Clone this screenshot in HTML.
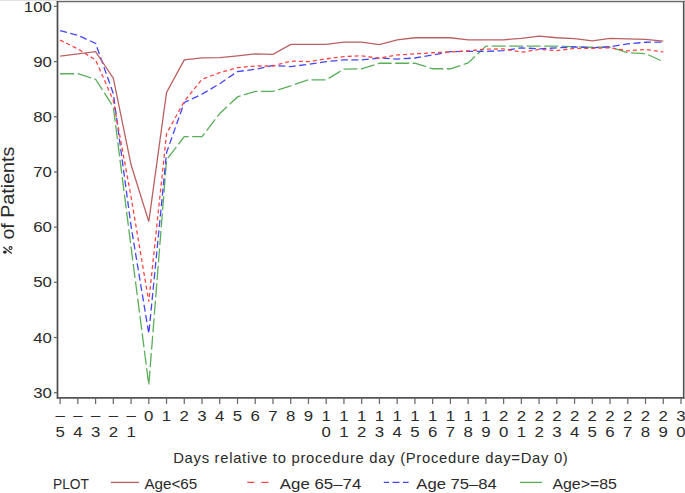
<!DOCTYPE html>
<html><head><meta charset="utf-8"><style>
html,body{margin:0;padding:0;background:#fff;}
body{width:685px;height:493px;overflow:hidden;}
svg{display:block;}
.t{font-family:"Liberation Sans",sans-serif;font-size:15.2px;fill:#2a2a2a;}
.tk{font-size:15.3px;}
</style></head><body>
<svg width="685" height="493" viewBox="0 0 685 493">
<rect x="0" y="0" width="685" height="1" fill="#e2e2e2"/>
<rect x="684.2" y="0" width="0.8" height="398.59999999999997" fill="#c4c4c4"/>
<line x1="56.8" y1="1.62" x2="684.3000000000001" y2="1.62" stroke="#6a6a6a" stroke-width="1.45"/>
<line x1="683.6" y1="0.9200000000000002" x2="683.6" y2="398.59999999999997" stroke="#505050" stroke-width="1.4"/>
<line x1="57.5" y1="0.9200000000000002" x2="57.5" y2="398.59999999999997" stroke="#4a4a4a" stroke-width="1.7"/>
<line x1="56.8" y1="397.9" x2="684.3000000000001" y2="397.9" stroke="#555" stroke-width="1.6"/>
<line x1="53.9" y1="392.73" x2="57.5" y2="392.73" stroke="#686868" stroke-width="1.25"/>
<text transform="translate(51.9,397.83) scale(1.1,1)" text-anchor="end" class="t tk">30</text>
<line x1="53.9" y1="337.54" x2="57.5" y2="337.54" stroke="#686868" stroke-width="1.25"/>
<text transform="translate(51.9,342.64) scale(1.1,1)" text-anchor="end" class="t tk">40</text>
<line x1="53.9" y1="282.35" x2="57.5" y2="282.35" stroke="#686868" stroke-width="1.25"/>
<text transform="translate(51.9,287.45) scale(1.1,1)" text-anchor="end" class="t tk">50</text>
<line x1="53.9" y1="227.16" x2="57.5" y2="227.16" stroke="#686868" stroke-width="1.25"/>
<text transform="translate(51.9,232.26) scale(1.1,1)" text-anchor="end" class="t tk">60</text>
<line x1="53.9" y1="171.97" x2="57.5" y2="171.97" stroke="#686868" stroke-width="1.25"/>
<text transform="translate(51.9,177.07) scale(1.1,1)" text-anchor="end" class="t tk">70</text>
<line x1="53.9" y1="116.78" x2="57.5" y2="116.78" stroke="#686868" stroke-width="1.25"/>
<text transform="translate(51.9,121.88) scale(1.1,1)" text-anchor="end" class="t tk">80</text>
<line x1="53.9" y1="61.59" x2="57.5" y2="61.59" stroke="#686868" stroke-width="1.25"/>
<text transform="translate(51.9,66.69) scale(1.1,1)" text-anchor="end" class="t tk">90</text>
<line x1="53.9" y1="6.40" x2="57.5" y2="6.40" stroke="#686868" stroke-width="1.25"/>
<text transform="translate(51.9,11.50) scale(1.1,1)" text-anchor="end" class="t tk">100</text>
<line x1="60.10" y1="397.9" x2="60.10" y2="403.9" stroke="#686868" stroke-width="1.25"/>
<text transform="translate(60.10,420.40) scale(1.1,1)" text-anchor="middle" class="t tk">–</text>
<text transform="translate(60.10,436.6) scale(1.1,1)" text-anchor="middle" class="t tk">5</text>
<line x1="77.84" y1="397.9" x2="77.84" y2="403.9" stroke="#686868" stroke-width="1.25"/>
<text transform="translate(77.84,420.40) scale(1.1,1)" text-anchor="middle" class="t tk">–</text>
<text transform="translate(77.84,436.6) scale(1.1,1)" text-anchor="middle" class="t tk">4</text>
<line x1="95.58" y1="397.9" x2="95.58" y2="403.9" stroke="#686868" stroke-width="1.25"/>
<text transform="translate(95.58,420.40) scale(1.1,1)" text-anchor="middle" class="t tk">–</text>
<text transform="translate(95.58,436.6) scale(1.1,1)" text-anchor="middle" class="t tk">3</text>
<line x1="113.32" y1="397.9" x2="113.32" y2="403.9" stroke="#686868" stroke-width="1.25"/>
<text transform="translate(113.32,420.40) scale(1.1,1)" text-anchor="middle" class="t tk">–</text>
<text transform="translate(113.32,436.6) scale(1.1,1)" text-anchor="middle" class="t tk">2</text>
<line x1="131.06" y1="397.9" x2="131.06" y2="403.9" stroke="#686868" stroke-width="1.25"/>
<text transform="translate(131.06,420.40) scale(1.1,1)" text-anchor="middle" class="t tk">–</text>
<text transform="translate(131.06,436.6) scale(1.1,1)" text-anchor="middle" class="t tk">1</text>
<line x1="148.80" y1="397.9" x2="148.80" y2="403.9" stroke="#686868" stroke-width="1.25"/>
<text transform="translate(148.80,420.80) scale(1.1,1)" text-anchor="middle" class="t tk">0</text>
<line x1="166.54" y1="397.9" x2="166.54" y2="403.9" stroke="#686868" stroke-width="1.25"/>
<text transform="translate(166.54,420.80) scale(1.1,1)" text-anchor="middle" class="t tk">1</text>
<line x1="184.28" y1="397.9" x2="184.28" y2="403.9" stroke="#686868" stroke-width="1.25"/>
<text transform="translate(184.28,420.80) scale(1.1,1)" text-anchor="middle" class="t tk">2</text>
<line x1="202.02" y1="397.9" x2="202.02" y2="403.9" stroke="#686868" stroke-width="1.25"/>
<text transform="translate(202.02,420.80) scale(1.1,1)" text-anchor="middle" class="t tk">3</text>
<line x1="219.76" y1="397.9" x2="219.76" y2="403.9" stroke="#686868" stroke-width="1.25"/>
<text transform="translate(219.76,420.80) scale(1.1,1)" text-anchor="middle" class="t tk">4</text>
<line x1="237.50" y1="397.9" x2="237.50" y2="403.9" stroke="#686868" stroke-width="1.25"/>
<text transform="translate(237.50,420.80) scale(1.1,1)" text-anchor="middle" class="t tk">5</text>
<line x1="255.24" y1="397.9" x2="255.24" y2="403.9" stroke="#686868" stroke-width="1.25"/>
<text transform="translate(255.24,420.80) scale(1.1,1)" text-anchor="middle" class="t tk">6</text>
<line x1="272.98" y1="397.9" x2="272.98" y2="403.9" stroke="#686868" stroke-width="1.25"/>
<text transform="translate(272.98,420.80) scale(1.1,1)" text-anchor="middle" class="t tk">7</text>
<line x1="290.72" y1="397.9" x2="290.72" y2="403.9" stroke="#686868" stroke-width="1.25"/>
<text transform="translate(290.72,420.80) scale(1.1,1)" text-anchor="middle" class="t tk">8</text>
<line x1="308.46" y1="397.9" x2="308.46" y2="403.9" stroke="#686868" stroke-width="1.25"/>
<text transform="translate(308.46,420.80) scale(1.1,1)" text-anchor="middle" class="t tk">9</text>
<line x1="326.20" y1="397.9" x2="326.20" y2="403.9" stroke="#686868" stroke-width="1.25"/>
<text transform="translate(326.20,420.80) scale(1.1,1)" text-anchor="middle" class="t tk">1</text>
<text transform="translate(326.20,436.6) scale(1.1,1)" text-anchor="middle" class="t tk">0</text>
<line x1="343.94" y1="397.9" x2="343.94" y2="403.9" stroke="#686868" stroke-width="1.25"/>
<text transform="translate(343.94,420.80) scale(1.1,1)" text-anchor="middle" class="t tk">1</text>
<text transform="translate(343.94,436.6) scale(1.1,1)" text-anchor="middle" class="t tk">1</text>
<line x1="361.68" y1="397.9" x2="361.68" y2="403.9" stroke="#686868" stroke-width="1.25"/>
<text transform="translate(361.68,420.80) scale(1.1,1)" text-anchor="middle" class="t tk">1</text>
<text transform="translate(361.68,436.6) scale(1.1,1)" text-anchor="middle" class="t tk">2</text>
<line x1="379.42" y1="397.9" x2="379.42" y2="403.9" stroke="#686868" stroke-width="1.25"/>
<text transform="translate(379.42,420.80) scale(1.1,1)" text-anchor="middle" class="t tk">1</text>
<text transform="translate(379.42,436.6) scale(1.1,1)" text-anchor="middle" class="t tk">3</text>
<line x1="397.16" y1="397.9" x2="397.16" y2="403.9" stroke="#686868" stroke-width="1.25"/>
<text transform="translate(397.16,420.80) scale(1.1,1)" text-anchor="middle" class="t tk">1</text>
<text transform="translate(397.16,436.6) scale(1.1,1)" text-anchor="middle" class="t tk">4</text>
<line x1="414.90" y1="397.9" x2="414.90" y2="403.9" stroke="#686868" stroke-width="1.25"/>
<text transform="translate(414.90,420.80) scale(1.1,1)" text-anchor="middle" class="t tk">1</text>
<text transform="translate(414.90,436.6) scale(1.1,1)" text-anchor="middle" class="t tk">5</text>
<line x1="432.64" y1="397.9" x2="432.64" y2="403.9" stroke="#686868" stroke-width="1.25"/>
<text transform="translate(432.64,420.80) scale(1.1,1)" text-anchor="middle" class="t tk">1</text>
<text transform="translate(432.64,436.6) scale(1.1,1)" text-anchor="middle" class="t tk">6</text>
<line x1="450.38" y1="397.9" x2="450.38" y2="403.9" stroke="#686868" stroke-width="1.25"/>
<text transform="translate(450.38,420.80) scale(1.1,1)" text-anchor="middle" class="t tk">1</text>
<text transform="translate(450.38,436.6) scale(1.1,1)" text-anchor="middle" class="t tk">7</text>
<line x1="468.12" y1="397.9" x2="468.12" y2="403.9" stroke="#686868" stroke-width="1.25"/>
<text transform="translate(468.12,420.80) scale(1.1,1)" text-anchor="middle" class="t tk">1</text>
<text transform="translate(468.12,436.6) scale(1.1,1)" text-anchor="middle" class="t tk">8</text>
<line x1="485.86" y1="397.9" x2="485.86" y2="403.9" stroke="#686868" stroke-width="1.25"/>
<text transform="translate(485.86,420.80) scale(1.1,1)" text-anchor="middle" class="t tk">1</text>
<text transform="translate(485.86,436.6) scale(1.1,1)" text-anchor="middle" class="t tk">9</text>
<line x1="503.60" y1="397.9" x2="503.60" y2="403.9" stroke="#686868" stroke-width="1.25"/>
<text transform="translate(503.60,420.80) scale(1.1,1)" text-anchor="middle" class="t tk">2</text>
<text transform="translate(503.60,436.6) scale(1.1,1)" text-anchor="middle" class="t tk">0</text>
<line x1="521.34" y1="397.9" x2="521.34" y2="403.9" stroke="#686868" stroke-width="1.25"/>
<text transform="translate(521.34,420.80) scale(1.1,1)" text-anchor="middle" class="t tk">2</text>
<text transform="translate(521.34,436.6) scale(1.1,1)" text-anchor="middle" class="t tk">1</text>
<line x1="539.08" y1="397.9" x2="539.08" y2="403.9" stroke="#686868" stroke-width="1.25"/>
<text transform="translate(539.08,420.80) scale(1.1,1)" text-anchor="middle" class="t tk">2</text>
<text transform="translate(539.08,436.6) scale(1.1,1)" text-anchor="middle" class="t tk">2</text>
<line x1="556.82" y1="397.9" x2="556.82" y2="403.9" stroke="#686868" stroke-width="1.25"/>
<text transform="translate(556.82,420.80) scale(1.1,1)" text-anchor="middle" class="t tk">2</text>
<text transform="translate(556.82,436.6) scale(1.1,1)" text-anchor="middle" class="t tk">3</text>
<line x1="574.56" y1="397.9" x2="574.56" y2="403.9" stroke="#686868" stroke-width="1.25"/>
<text transform="translate(574.56,420.80) scale(1.1,1)" text-anchor="middle" class="t tk">2</text>
<text transform="translate(574.56,436.6) scale(1.1,1)" text-anchor="middle" class="t tk">4</text>
<line x1="592.30" y1="397.9" x2="592.30" y2="403.9" stroke="#686868" stroke-width="1.25"/>
<text transform="translate(592.30,420.80) scale(1.1,1)" text-anchor="middle" class="t tk">2</text>
<text transform="translate(592.30,436.6) scale(1.1,1)" text-anchor="middle" class="t tk">5</text>
<line x1="610.04" y1="397.9" x2="610.04" y2="403.9" stroke="#686868" stroke-width="1.25"/>
<text transform="translate(610.04,420.80) scale(1.1,1)" text-anchor="middle" class="t tk">2</text>
<text transform="translate(610.04,436.6) scale(1.1,1)" text-anchor="middle" class="t tk">6</text>
<line x1="627.78" y1="397.9" x2="627.78" y2="403.9" stroke="#686868" stroke-width="1.25"/>
<text transform="translate(627.78,420.80) scale(1.1,1)" text-anchor="middle" class="t tk">2</text>
<text transform="translate(627.78,436.6) scale(1.1,1)" text-anchor="middle" class="t tk">7</text>
<line x1="645.52" y1="397.9" x2="645.52" y2="403.9" stroke="#686868" stroke-width="1.25"/>
<text transform="translate(645.52,420.80) scale(1.1,1)" text-anchor="middle" class="t tk">2</text>
<text transform="translate(645.52,436.6) scale(1.1,1)" text-anchor="middle" class="t tk">8</text>
<line x1="663.26" y1="397.9" x2="663.26" y2="403.9" stroke="#686868" stroke-width="1.25"/>
<text transform="translate(663.26,420.80) scale(1.1,1)" text-anchor="middle" class="t tk">2</text>
<text transform="translate(663.26,436.6) scale(1.1,1)" text-anchor="middle" class="t tk">9</text>
<line x1="681.00" y1="397.9" x2="681.00" y2="403.9" stroke="#686868" stroke-width="1.25"/>
<text transform="translate(681.00,420.80) scale(1.1,1)" text-anchor="middle" class="t tk">3</text>
<text transform="translate(681.00,436.6) scale(1.1,1)" text-anchor="middle" class="t tk">0</text>
<polyline points="60.10,73.73 77.84,73.73 95.58,79.25 113.32,106.85 131.06,247.03 148.80,385.00 166.54,159.83 184.28,136.65 202.02,136.65 219.76,113.47 237.50,96.91 255.24,91.39 272.98,91.39 290.72,85.87 308.46,79.80 326.20,79.80 343.94,69.04 361.68,68.76 379.42,63.25 397.16,63.25 414.90,63.25 432.64,68.76 450.38,68.76 468.12,62.97 485.86,46.14 503.60,46.14 521.34,46.14 539.08,46.14 556.82,46.14 574.56,46.69 592.30,47.24 610.04,47.24 627.78,52.76 645.52,53.59 663.26,61.59" fill="none" stroke="#5aae5a" stroke-width="1.3" stroke-dasharray="14 3.5"/>
<polyline points="60.10,30.68 77.84,35.32 95.58,43.38 113.32,93.60 131.06,226.06 148.80,333.68 166.54,152.65 184.28,102.43 202.02,94.15 219.76,83.67 237.50,71.52 255.24,69.32 272.98,65.45 290.72,66.56 308.46,64.35 326.20,61.59 343.94,59.93 361.68,59.93 379.42,58.00 397.16,59.11 414.90,58.00 432.64,54.97 450.38,51.66 468.12,51.38 485.86,51.38 503.60,50.55 521.34,47.79 539.08,48.90 556.82,47.79 574.56,46.96 592.30,47.79 610.04,46.69 627.78,43.93 645.52,42.27 663.26,42.00" fill="none" stroke="#4545ff" stroke-width="1.3" stroke-dasharray="7 3.5"/>
<polyline points="60.10,40.07 77.84,48.90 95.58,59.93 113.32,100.50 131.06,196.81 148.80,301.67 166.54,133.61 184.28,101.33 202.02,79.25 219.76,72.63 237.50,67.66 255.24,66.01 272.98,66.01 290.72,61.04 308.46,61.59 326.20,58.83 343.94,56.62 361.68,55.80 379.42,58.28 397.16,54.97 414.90,53.86 432.64,52.76 450.38,51.93 468.12,50.83 485.86,49.17 503.60,48.90 521.34,52.21 539.08,49.45 556.82,50.55 574.56,48.34 592.30,48.34 610.04,47.79 627.78,50.83 645.52,49.45 663.26,51.93" fill="none" stroke="#ff4545" stroke-width="1.3" stroke-dasharray="4 3"/>
<polyline points="60.10,56.07 77.84,53.86 95.58,51.66 113.32,78.15 131.06,164.80 148.80,221.64 166.54,92.50 184.28,59.82 202.02,57.84 219.76,57.62 237.50,55.96 255.24,53.92 272.98,54.30 290.72,44.37 308.46,44.37 326.20,44.37 343.94,42.16 361.68,42.16 379.42,44.65 397.16,39.96 414.90,37.75 432.64,37.75 450.38,37.75 468.12,39.79 485.86,39.79 503.60,39.79 521.34,38.30 539.08,36.09 556.82,37.75 574.56,38.58 592.30,40.78 610.04,38.30 627.78,38.85 645.52,39.40 663.26,41.06" fill="none" stroke="#bb6060" stroke-width="1.3"/>
<text transform="translate(14.3,239.6) rotate(-90)" class="t" style="font-size:17.5px" textLength="92.9" lengthAdjust="spacingAndGlyphs">of Patients</text>
<g fill="none" stroke="#2a2a2a"><line x1="3.4" y1="247.1" x2="11.8" y2="253.4" stroke-width="1.3"/><circle cx="10.6" cy="248.1" r="1.45" stroke-width="1.1"/></g><ellipse cx="4.9" cy="252.1" rx="1.9" ry="1.7" fill="#2a2a2a"/>
<text x="173.2" y="463" class="t lab" style="font-size:14.8px" textLength="394.6" lengthAdjust="spacing">Days relative to procedure day (Procedure day=Day 0)</text>
<text x="53.0" y="489.2" class="t" textLength="36" lengthAdjust="spacingAndGlyphs">PLOT</text>
<line x1="110.8" y1="482.4" x2="138.9" y2="482.4" stroke="#bb6060" stroke-width="1.3"/>
<text x="144.4" y="489.2" class="t">Age&lt;65</text>
<line x1="247.3" y1="482.4" x2="268.6" y2="482.4" stroke="#ff4545" stroke-width="1.3" stroke-dasharray="7 7.2"/>
<text x="279.8" y="489.2" class="t" textLength="81.5" lengthAdjust="spacingAndGlyphs">Age 65–74</text>
<line x1="383.8" y1="482.4" x2="408.6" y2="482.4" stroke="#4545ff" stroke-width="1.3" stroke-dasharray="5.2 3.5 7 3.5 5.6"/>
<text x="416.3" y="489.2" class="t" textLength="80.5" lengthAdjust="spacingAndGlyphs">Age 75–84</text>
<line x1="519.9" y1="482.4" x2="542.1" y2="482.4" stroke="#5aae5a" stroke-width="1.3"/>
<text x="552.4" y="489.2" class="t" textLength="64.5" lengthAdjust="spacingAndGlyphs">Age&gt;=85</text>
</svg>
</body></html>
